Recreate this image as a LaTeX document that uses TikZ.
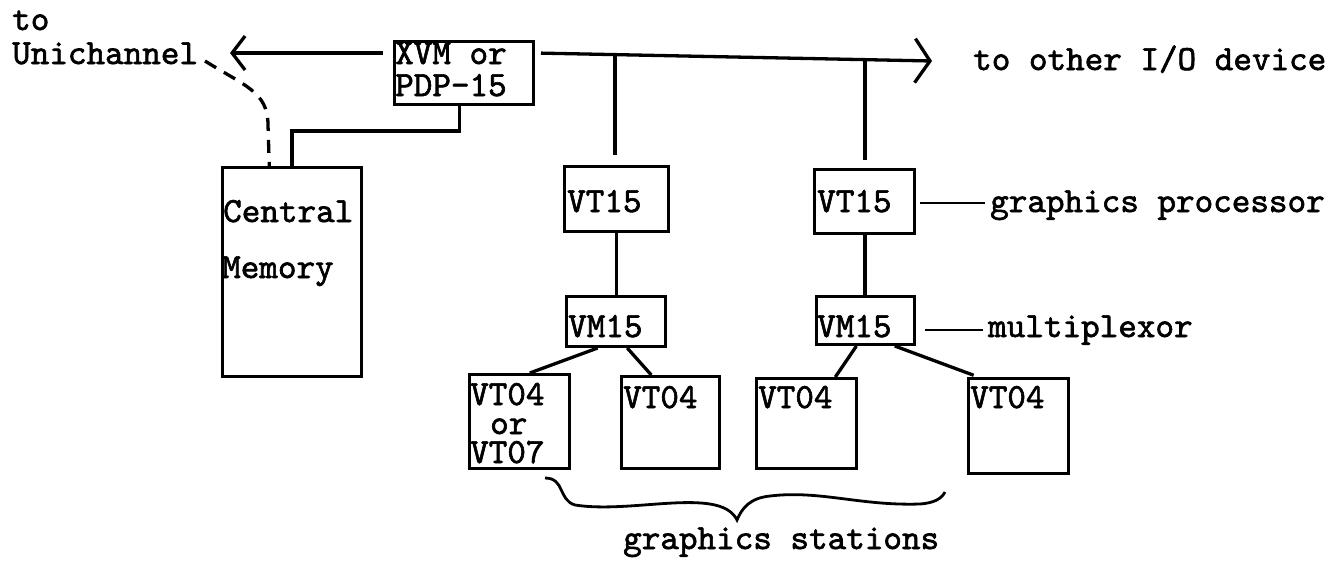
\documentclass[tikz,border=0pt]{standalone}
\usepackage{fontspec}
\newfontfamily\cour[FakeBold=1.8]{lmmono10-regular.otf}
\usetikzlibrary{arrows.meta,calc}
\begin{document}
\begin{tikzpicture}[x=1pt,y=-1pt,
  box/.style={draw, line width=3pt, inner sep=0pt, anchor=north west},
  txt/.style={anchor=base west, inner sep=0pt, font=\cour\fontsize{35.4}{30}\selectfont},
  wire/.style={line width=3.3pt},
  thinwire/.style={line width=2.8pt},
  ]
\useasboundingbox (0,0) rectangle (1339,560);
% boxes
\node[box, minimum width=139pt, minimum height=63pt] (xvm) at (393,40) {};
\node[box, minimum width=139pt, minimum height=209pt] (cm) at (221,166) {};
\node[box, minimum width=104pt, minimum height=65pt] (vt15a) at (563,165) {};
\node[box, minimum width=100pt, minimum height=64pt] (vt15b) at (813,168) {};
\node[box, minimum width=99pt, minimum height=50pt] (vm15a) at (565,295) {};
\node[box, minimum width=98pt, minimum height=48pt] (vm15b) at (815,295) {};
\node[box, minimum width=100pt, minimum height=94pt] (vt04a) at (468,373) {};
\node[box, minimum width=98pt, minimum height=92pt] (vt04b) at (620,375) {};
\node[box, minimum width=100pt, minimum height=90pt] (vt04c) at (755,377) {};
\node[box, minimum width=100pt, minimum height=95pt] (vt04d) at (967,377) {};
% texts
\node[txt] (to1) at (12,30) {to};
\node[txt] (uni) at (12,64) {Unichannel};
\node[txt] (xvmt1) at (395,64) {XVM or};
\node[txt] (xvmt2) at (395,96) {PDP-15};
\node[txt] (other) at (973,70) {to other I/O device};
\node[txt] (cmt1) at (223,222) {Central};
\node[txt] (cmt2) at (222,278) {Memory};
\node[txt] (vt15at) at (567,212) {VT15};
\node[txt] (vt15bt) at (817,212) {VT15};
\node[txt] (gp) at (990,212) {graphics processor};
\node[txt] (vm15at) at (568,337) {VM15};
\node[txt] (vm15bt) at (817,337) {VM15};
\node[txt] (mux) at (988,337) {multiplexor};
\node[txt] (vt04at) at (470,405) {VT04};
\node[txt] (vt04ator) at (490,434) {or};
\node[txt] (vt04at2) at (470,463) {VT07};
\node[txt] (vt04bt) at (623,408) {VT04};
\node[txt] (vt04ct) at (758,408) {VT04};
\node[txt] (vt04dt) at (970,408) {VT04};
\node[txt] (gs) at (623,549) {graphics stations};
% bus
\coordinate (busL) at (230,53);
\coordinate (busR) at (932,61);
\coordinate (j1) at (615,55);
\coordinate (j2) at (865,59.5);
\draw[wire, shorten <=10pt, -{Straight Barb[length=13pt,width=34pt]}] (xvm.west |- busL) -- (busL);
\draw[wire, shorten <=6pt, -{Straight Barb[length=15pt,width=44pt]}] (xvm.east |- busL) -- (busR);
\draw[wire, shorten >=10pt] (j1) -- (j1 |- vt15a.north);
\draw[wire, shorten >=8pt] (j2) -- (j2 |- vt15b.north);
\draw[wire] (vt15a.south) -- (vm15a.north -| vt15a.south);
\draw[wire] (j2 |- vt15b.south) -- (j2 |- vm15b.north);
% memory link
\draw[wire] ($(xvm.south west)!0.47!(xvm.south east)$) -- ++(0,25) -| ($(cm.north west)!0.5!(cm.north east)$);
\coordinate (dstart) at (205,61);
\draw[wire, dash pattern=on 13pt off 9pt] (dstart) .. controls (245,86) and (268,92) .. (268,125) -- ($(cm.north west)!0.34!(cm.north east)$);
% multiplexor fan-out
\draw[wire] ($(vm15a.south west)!0.32!(vm15a.south east)$) -- ($(vt04a.north west)!0.6!(vt04a.north east)$);
\draw[wire] ($(vm15a.south west)!0.61!(vm15a.south east)$) -- ($(vt04b.north west)!0.31!(vt04b.north east)$);
\draw[wire] ($(vm15b.south west)!0.41!(vm15b.south east)$) -- ($(vt04c.north west)!0.78!(vt04c.north east)$);
\draw[wire, shorten >=5pt] ($(vm15b.south west)!0.79!(vm15b.south east)$) -- ($(vt04d.north west)!0.11!(vt04d.north east)$);
% side labels
\draw[thinwire, shorten <=4pt, shorten >=5pt] (vt15b.east |- 0,203) -- (gp.west |- 0,203);
\draw[thinwire, shorten <=9pt, shorten >=5pt] (vm15b.east |- 0,330) -- (mux.west |- 0,330);
% brace
\draw[thinwire] (545,478) .. controls (565,478) and (558,500) .. (575,505)
  .. controls (620,512) and (680,497) .. (715,505)
  .. controls (728,508) and (734,514) .. (737,520)
  .. controls (742,508) and (750,498) .. (770,496)
  .. controls (820,490) and (860,506) .. (920,504)
  .. controls (935,503) and (942,498) .. (945,492);
\end{tikzpicture}
\end{document}
